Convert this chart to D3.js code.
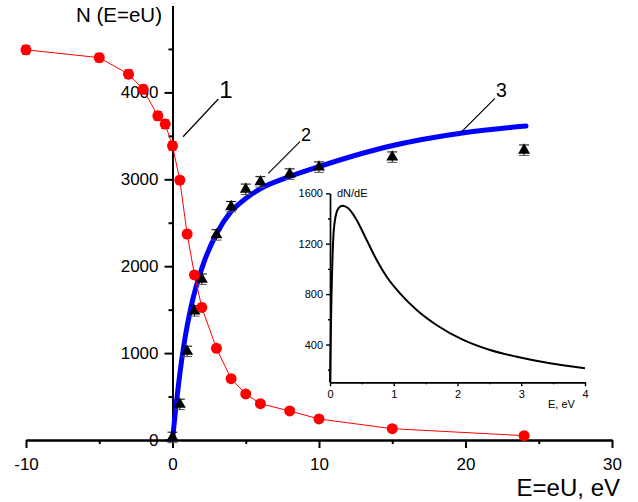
<!DOCTYPE html>
<meta charset="utf-8">
<script src="https://d3js.org/d3.v7.min.js"></script>
<style>
  body { margin: 0; background: #fff; }
  text { font-family: "Liberation Sans", Arial, sans-serif; fill: #000; }
</style>
<svg id="chart" width="638" height="502"></svg>
<script>

// curve 1 : N(E) measured (red circles)
var redE   = [-10, -5, -3, -2, -1, -0.5, 0, 0.5, 1, 1.5, 2, 3, 4, 5, 6, 8, 10, 15, 24];
var redN   = [4490, 4400, 4210, 4035, 3730, 3635, 3385, 2990, 2370, 1900, 1525, 1055, 705, 530, 418, 334, 242, 130, 50];
var redErr = [50, 50, 50, 50, 50, 50, 50, 45, 45, 40, 40, 35, 35, 30, 30, 30, 30, 30, 30];

// curve 2 : black triangles
var triE   = [0, 0.5, 1, 1.5, 2, 3, 4, 5, 6, 8, 10, 15, 24];
var triN   = [30, 410, 1020, 1485, 1850, 2360, 2685, 2885, 2970, 3060, 3140, 3255, 3335];
var triErr = [60, 60, 60, 60, 60, 60, 60, 60, 60, 60, 60, 60, 60];

// curve 3 : fitted (blue)
var fitE = [0, 0.2, 0.42, 0.87, 1.2, 1.44, 2.12, 3.02, 3.99, 5.02, 5.93, 7.79, 10.06, 14.67, 19.9, 24.13];
var fitN = [0, 330, 652, 1189, 1480, 1655, 2033, 2379, 2627, 2781, 2885, 3020, 3150, 3375, 3536, 3613];

// inset : dN/dE
var insE = [0, 0.02, 0.05, 0.078, 0.131, 0.193, 0.287, 0.418, 0.575, 0.732, 0.889, 1.098, 1.36, 1.67, 2.09, 2.51, 2.93, 3.45, 4.0];
var insV = [100, 700, 1229, 1388, 1481, 1502, 1481, 1388, 1229, 1071, 938, 806, 674, 555, 436, 356, 303, 251, 211];

// ticks
var xMajor = [-10, 0, 10, 20, 30], xMinor = [-5, 5, 15, 25];
var yMajor = [0, 1000, 2000, 3000, 4000], yMinor = [500, 1500, 2500, 3500, 4500];
var ixMajor = [0, 1, 2, 3, 4], ixMinor = [0.5, 1.5, 2.5, 3.5];
var iyMajor = [400, 800, 1200, 1600], iyMinor = [200, 600, 1000, 1400];

// curve labels with leader lines (data units)
var notes = [
  {t: "1", e0: 0.72, n0: 3490, e1: 3.13, n1: 3924, size: 24},
  {t: "2", e0: 6.54, n0: 3069, e1: 8.70, n1: 3433, size: 18},
  {t: "3", e0: 19.74, n0: 3548, e1: 22.01, n1: 3932, size: 19.5}
];

var plain = d => String(d);
var svg = d3.select("#chart");

var x = d3.scaleLinear().domain([-10, 30]).range([26, 612]);
var y = d3.scaleLinear().domain([0, 5000]).range([440, 5.5]);

// main axes
svg.append("g").attr("transform", "translate(0,440)")
    .call(d3.axisBottom(x).tickValues(xMajor).tickFormat(plain).tickSize(8).tickSizeOuter(0).tickPadding(10));
svg.append("g").attr("transform", "translate(0,440)")
    .call(d3.axisBottom(x).tickValues(xMinor).tickSize(4).tickSizeOuter(0).tickFormat(""));
svg.append("g").attr("transform", "translate(" + x(0) + ",0)")
    .call(d3.axisLeft(y).tickValues(yMajor).tickFormat(plain).tickSize(8).tickSizeOuter(0).tickPadding(6));
svg.append("g").attr("transform", "translate(" + x(0) + ",0)")
    .call(d3.axisLeft(y).tickValues(yMinor).tickSize(4).tickSizeOuter(0).tickFormat(""));
svg.selectAll("g path.domain, g .tick line").attr("stroke-width", 2);
svg.selectAll("g .tick text").style("font-size", "17px");

svg.append("text").attr("x", 162).attr("y", 21.5).attr("text-anchor", "end")
    .style("font-size", "20.5px").text("N (E=eU)");
svg.append("text").attr("x", 620).attr("y", 496).attr("text-anchor", "end")
    .style("font-size", "24px").text("E=eU, eV");

// blue fitted curve
var fitLine = d3.line().x(d => x(d[0])).y(d => y(d[1])).curve(d3.curveMonotoneX);
svg.append("path").datum(fitE.map((e, i) => [e, fitN[i]]))
    .attr("d", fitLine).attr("fill", "none").attr("stroke", "#0000ff")
    .attr("stroke-width", 5).attr("stroke-linecap", "round");

// triangles with error bars
var tri = triE.map((e, i) => ({e: e, n: triN[i], err: triErr[i]}));
var tg = svg.append("g").selectAll("g").data(tri).enter().append("g");
tg.append("line").attr("x1", d => x(d.e)).attr("x2", d => x(d.e))
    .attr("y1", d => y(d.n - d.err)).attr("y2", d => y(d.n + d.err)).attr("stroke", "#000");
tg.append("line").attr("x1", d => x(d.e) - 5).attr("x2", d => x(d.e) + 5)
    .attr("y1", d => y(d.n + d.err)).attr("y2", d => y(d.n + d.err)).attr("stroke", "#000");
tg.append("line").attr("x1", d => x(d.e) - 5).attr("x2", d => x(d.e) + 5)
    .attr("y1", d => y(d.n - d.err)).attr("y2", d => y(d.n - d.err)).attr("stroke", "#555");
tg.append("path").attr("d", d3.symbol(d3.symbolTriangle, 62))
    .attr("transform", d => "translate(" + x(d.e) + "," + y(d.n) + ")").attr("fill", "#000");

// red measured curve
var red = redE.map((e, i) => ({e: e, n: redN[i], err: redErr[i]}));
svg.append("path").datum(red)
    .attr("d", d3.line().x(d => x(d.e)).y(d => y(d.n)))
    .attr("fill", "none").attr("stroke", "#ff0000").attr("stroke-width", 1);
var rg = svg.append("g").selectAll("g").data(red).enter().append("g");
rg.append("line").attr("x1", d => x(d.e)).attr("x2", d => x(d.e))
    .attr("y1", d => y(d.n - d.err)).attr("y2", d => y(d.n + d.err)).attr("stroke", "#ff0000");
rg.append("line").attr("x1", d => x(d.e) - 4).attr("x2", d => x(d.e) + 4)
    .attr("y1", d => y(d.n + d.err)).attr("y2", d => y(d.n + d.err)).attr("stroke", "#ff0000");
rg.append("line").attr("x1", d => x(d.e) - 4).attr("x2", d => x(d.e) + 4)
    .attr("y1", d => y(d.n - d.err)).attr("y2", d => y(d.n - d.err)).attr("stroke", "#ff0000");
rg.append("circle").attr("cx", d => x(d.e)).attr("cy", d => y(d.n)).attr("r", 5.5).attr("fill", "#ff0000");

// labels 1, 2, 3
notes.forEach(function(d) {
  svg.append("line").attr("x1", x(d.e0)).attr("y1", y(d.n0)).attr("x2", x(d.e1)).attr("y2", y(d.n1))
      .attr("stroke", "#000").attr("stroke-width", 1.2);
  svg.append("text").attr("x", x(d.e1) + 1).attr("y", y(d.n1) - 1)
      .style("font-size", d.size + "px").text(d.t);
});

// inset
var xi = d3.scaleLinear().domain([0, 4]).range([330, 585]);
var yi = d3.scaleLinear().domain([100, 1600]).range([382.3, 193.3]);
var inset = svg.append("g");
inset.append("g").attr("transform", "translate(0,382.3)")
    .call(d3.axisBottom(xi).tickValues(ixMajor).tickFormat(plain).tickSize(4).tickSizeOuter(0).tickPadding(4));
inset.append("g").attr("transform", "translate(0,382.3)")
    .call(d3.axisBottom(xi).tickValues(ixMinor).tickSize(2).tickSizeOuter(0).tickFormat(""));
inset.append("g").attr("transform", "translate(330,0)")
    .call(d3.axisLeft(yi).tickValues(iyMajor).tickFormat(plain).tickSize(4).tickSizeOuter(0).tickPadding(3));
inset.append("g").attr("transform", "translate(330,0)")
    .call(d3.axisLeft(yi).tickValues(iyMinor).tickSize(2).tickSizeOuter(0).tickFormat(""));
inset.selectAll("path.domain, .tick line").attr("stroke-width", 1.4);
inset.selectAll(".tick text").style("font-size", "11px");

inset.append("path").datum(insE.map((e, i) => [e, insV[i]]))
    .attr("d", d3.line().x(d => xi(d[0])).y(d => yi(d[1])).curve(d3.curveMonotoneX))
    .attr("fill", "none").attr("stroke", "#000").attr("stroke-width", 2);

inset.append("text").attr("x", 337).attr("y", 197).style("font-size", "11px").text("dN/dE");
inset.append("text").attr("x", 548).attr("y", 408).style("font-size", "11px").text("E, eV");

</script>
